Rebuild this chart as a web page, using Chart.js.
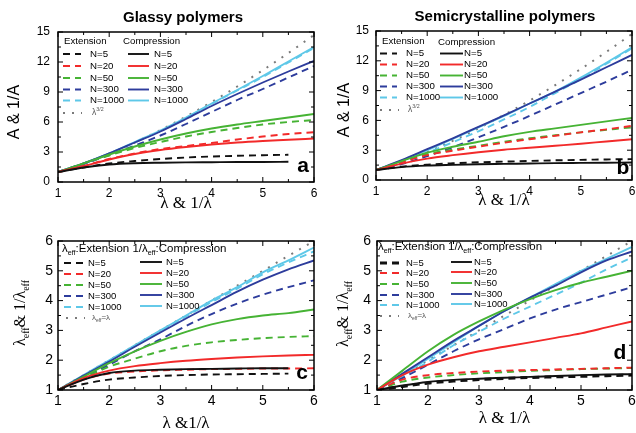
<!DOCTYPE html>
<html>
<head>
<meta charset="utf-8">
<script src="https://cdn.jsdelivr.net/npm/chart.js@4.4.1/dist/chart.umd.min.js"></script>
<style>
  body { margin: 0; background: #fff; }
  .panel { position: absolute; }
</style>
</head>
<body>
<div class="panel" style="left:0;top:0;width:318px;height:216px"><canvas id="chartA"></canvas></div>
<div class="panel" style="left:318px;top:0;width:318px;height:216px"><canvas id="chartB"></canvas></div>
<div class="panel" style="left:0;top:216px;width:318px;height:217px"><canvas id="chartC"></canvas></div>
<div class="panel" style="left:318px;top:216px;width:318px;height:217px"><canvas id="chartD"></canvas></div>
<script>
// stretch ratio, shared by every curve
const lam = [1, 1.5, 2, 2.5, 3, 3.5, 4, 4.5, 5, 5.5, 6]
const xTicks = [1, 2, 3, 4, 5, 6]
const yTicksTop = [0, 3, 6, 9, 12, 15]
const yTicksBottom = [1, 2, 3, 4, 5, 6]
const nLabels = ['N=5', 'N=20', 'N=50', 'N=300', 'N=1000']

// (a) glassy polymers, A & 1/A
const aExt5 = [1, 1.45, 1.85, 2.1, 2.3, 2.45, 2.55, 2.62, 2.68, 2.72, null]
const aExt20 = [1, 1.6, 2.3, 2.85, 3.3, 3.6, 3.9, 4.25, 4.55, 4.8, 4.98]
const aExt50 = [1, 1.85, 2.65, 3.4, 4.0, 4.55, 5.0, 5.4, 5.75, 6.0, 6.2]
const aExt300 = [1, 1.8, 2.7, 3.65, 4.65, 5.8, 7.0, 8.2, 9.3, 10.45, 11.6]
const aExt1000 = [1, 1.85, 2.8, 3.95, 5.1, 6.4, 7.8, 9.15, 10.5, 11.95, 13.4]
const aComp5 = [1, 1.45, 1.75, 1.88, 1.93, 1.96, 1.98, 2.0, 2.0, 2.02, null]
const aComp20 = [1, 1.6, 2.25, 2.8, 3.2, 3.5, 3.75, 3.95, 4.1, 4.22, 4.35]
const aComp50 = [1, 1.85, 2.75, 3.55, 4.25, 4.85, 5.35, 5.75, 6.1, 6.45, 6.8]
const aComp300 = [1, 1.85, 2.85, 3.95, 5.05, 6.3, 7.6, 8.8, 9.95, 11.05, 12.1]
const aComp1000 = [1, 1.85, 2.85, 4.0, 5.15, 6.45, 7.85, 9.2, 10.6, 12.05, 13.5]
const aRef = [1, 1.84, 2.83, 3.95, 5.2, 6.55, 8.0, 9.55, 11.18, 12.9, 14.7]

// (b) semicrystalline polymers, A & 1/A
const bExt5 = [1, 1.35, 1.55, 1.68, 1.78, 1.85, 1.92, 1.98, 2.03, 2.07, 2.1]
const bExt20 = [1, 1.8, 2.5, 2.95, 3.35, 3.75, 4.1, 4.45, 4.8, 5.1, 5.45]
const bExt50 = [1, 1.85, 2.6, 3.05, 3.45, 3.85, 4.2, 4.5, 4.8, 5.05, 5.3]
const bExt300 = [1, 1.6, 2.4, 3.3, 4.3, 5.35, 6.45, 7.6, 8.75, 9.9, 11.1]
const bExt1000 = [1, 1.8, 2.75, 3.8, 4.9, 6.1, 7.35, 8.75, 10.15, 11.7, 13.25]
const bComp5 = [1, 1.3, 1.45, 1.52, 1.58, 1.62, 1.66, 1.7, 1.72, 1.74, 1.76]
const bComp20 = [1, 1.65, 2.15, 2.5, 2.8, 3.05, 3.25, 3.45, 3.65, 3.88, 4.1]
const bComp50 = [1, 1.9, 2.75, 3.35, 3.85, 4.4, 4.85, 5.2, 5.55, 5.9, 6.25]
const bComp300 = [1, 2.0, 3.1, 4.2, 5.35, 6.5, 7.7, 8.9, 10.1, 11.35, 12.6]
const bComp1000 = [1, 1.95, 3.0, 4.15, 5.3, 6.45, 7.7, 8.9, 10.3, 11.8, 13.35]
const bRef = [1, 1.84, 2.83, 3.95, 5.2, 6.55, 8.0, 9.55, 11.18, 12.9, 14.7]

// (c) glassy polymers, effective stretch
const cExt5 = [1, 1.2, 1.35, 1.42, 1.47, 1.5, 1.52, 1.53, 1.54, 1.55, null]
const cExt20 = [1, 1.35, 1.55, 1.62, 1.66, 1.68, 1.7, 1.71, 1.72, 1.72, 1.73]
const cExt50 = [1, 1.4, 1.78, 2.05, 2.3, 2.48, 2.6, 2.68, 2.74, 2.78, 2.81]
const cExt300 = [1, 1.42, 1.85, 2.3, 2.7, 3.15, 3.55, 3.9, 4.2, 4.45, 4.68]
const cExt1000 = [1, 1.48, 1.98, 2.48, 2.98, 3.47, 3.95, 4.4, 4.88, 5.28, 5.65]
const cComp5 = [1, 1.35, 1.57, 1.65, 1.68, 1.7, 1.71, 1.72, 1.73, 1.73, null]
const cComp20 = [1, 1.4, 1.65, 1.8, 1.9, 1.98, 2.04, 2.09, 2.13, 2.16, 2.18]
const cComp50 = [1, 1.45, 1.9, 2.3, 2.65, 2.95, 3.2, 3.38, 3.5, 3.58, 3.7]
const cComp300 = [1, 1.48, 1.95, 2.45, 2.93, 3.4, 3.85, 4.3, 4.7, 5.05, 5.35]
const cComp1000 = [1, 1.5, 2.0, 2.5, 3.0, 3.5, 4.0, 4.45, 4.95, 5.35, 5.78]
const cRef = [1, 1.5, 2, 2.5, 3, 3.5, 4, 4.5, 5, 5.5, 6]

// (d) semicrystalline polymers, effective stretch
const dExt5 = [1, 1.12, 1.23, 1.3, 1.35, 1.39, 1.42, 1.44, 1.46, 1.48, 1.5]
const dExt20 = [1, 1.35, 1.5, 1.57, 1.62, 1.65, 1.67, 1.69, 1.71, 1.73, 1.75]
const dExt50 = [1, 1.28, 1.42, 1.5, 1.56, 1.6, 1.64, 1.67, 1.7, 1.72, 1.74]
const dExt300 = [1, 1.4, 1.85, 2.3, 2.7, 3.05, 3.4, 3.7, 3.95, 4.2, 4.45]
const dExt1000 = [1, 1.45, 1.95, 2.5, 2.95, 3.4, 3.8, 4.2, 4.6, 5.05, 5.45]
const dComp5 = [1, 1.15, 1.27, 1.34, 1.38, 1.41, 1.44, 1.47, 1.5, 1.52, 1.53]
const dComp20 = [1, 1.5, 1.85, 2.1, 2.3, 2.45, 2.6, 2.75, 2.9, 3.1, 3.3]
const dComp50 = [1, 1.65, 2.3, 2.85, 3.3, 3.7, 4.05, 4.35, 4.6, 4.8, 5.0]
const dComp300 = [1, 1.55, 2.1, 2.65, 3.15, 3.65, 4.1, 4.5, 4.95, 5.35, 5.65]
const dComp1000 = [1, 1.5, 2.05, 2.6, 3.15, 3.65, 4.1, 4.55, 5.0, 5.4, 5.8]
const dRef = [1, 1.5, 2, 2.5, 3, 3.5, 4, 4.5, 5, 5.5, 6]

const colors = ['#111111', '#f22a2a', '#46b334', '#2d3c9c', '#5ec8e8']
const SANS = '"Liberation Sans", Arial, sans-serif'
const SERIF = '"Liberation Serif", "Times New Roman", serif'

const pts = arr => lam.map((x, i) => ({x, y: arr[i]})).filter(p => p.y !== null)

const series = (ext, comp, ref, refText, thickBlack) => {
    const out = []
    comp.forEach((arr, i) => out.push({
        label: nLabels[i], data: pts(arr), borderColor: colors[i], borderWidth: 1.9,
        col: 'comp', row: i
    }))
    ext.forEach((arr, i) => out.push({
        label: nLabels[i], data: pts(arr), borderColor: colors[i],
        borderWidth: (thickBlack && i === 0) ? 3 : 1.9, borderDash: [7, 5],
        col: 'ext', row: i
    }))
    out.push({
        label: 'ref', data: pts(ref), borderColor: '#7a7a7a', borderWidth: 2,
        borderDash: [2, 7], col: 'ref', row: 5, richLabel: refText
    })
    return out
}

// draws text made of plain / sub / sup pieces
function drawRich(ctx, parts, x, y, size, family, align, weight) {
    const fontFor = mode => `${weight || ''} ${mode ? size * 0.62 : size}px ${family}`
    let total = 0
    parts.forEach(([t, m]) => { ctx.font = fontFor(m); total += ctx.measureText(t).width })
    let cx = align === 'center' ? x - total / 2 : x
    ctx.textAlign = 'left'
    ctx.textBaseline = 'middle'
    parts.forEach(([t, m]) => {
        ctx.font = fontFor(m)
        const dy = m === 'sub' ? size * 0.32 : m === 'sup' ? -size * 0.38 : 0
        ctx.fillText(t, cx, y + dy)
        cx += ctx.measureText(t).width
    })
}

const decor = {
    id: 'decor',
    afterDraw(chart, args, o) {
        const {ctx, chartArea: a, scales} = chart
        ctx.save()
        ctx.fillStyle = '#000'
        ctx.strokeStyle = '#000'

        // inward ticks on all four sides
        ctx.lineWidth = 1
        const xs = scales.x, ys = scales.y
        for (let v = o.xMin; v <= o.xMax + 1e-9; v += o.xStep / 2) {
            const px = xs.getPixelForValue(v)
            const len = Math.abs(v - Math.round(v / o.xStep) * o.xStep) < 1e-6 ? 5 : 3
            ctx.beginPath()
            ctx.moveTo(px, a.bottom); ctx.lineTo(px, a.bottom - len)
            ctx.moveTo(px, a.top); ctx.lineTo(px, a.top + len)
            ctx.stroke()
        }
        for (let v = o.yMin; v <= o.yMax + 1e-9; v += o.yStep / 2) {
            const py = ys.getPixelForValue(v)
            const len = Math.abs((v - o.yMin) / o.yStep - Math.round((v - o.yMin) / o.yStep)) < 1e-6 ? 5 : 3
            ctx.beginPath()
            ctx.moveTo(a.left, py); ctx.lineTo(a.left + len, py)
            ctx.moveTo(a.right, py); ctx.lineTo(a.right - len, py)
            ctx.stroke()
        }
        // frame
        ctx.lineWidth = 1.5
        ctx.strokeRect(a.left, a.top, a.right - a.left, a.bottom - a.top)

        if (o.title) {
            ctx.font = `bold 15px ${SANS}`
            ctx.textAlign = 'center'
            ctx.textBaseline = 'middle'
            ctx.fillText(o.title, o.titlePos[0], o.titlePos[1])
        }
        ctx.font = `bold 21px ${SANS}`
        ctx.textAlign = 'center'
        ctx.textBaseline = 'middle'
        ctx.fillText(o.letter, o.letterPos[0], o.letterPos[1])

        // axis titles
        drawRich(ctx, [[o.xTitle, '']], (a.left + a.right) / 2, o.xTitleY, 17, SERIF, 'center')
        ctx.save()
        ctx.translate(o.yTitlePos[0], o.yTitlePos[1])
        ctx.rotate(-Math.PI / 2)
        drawRich(ctx, o.yTitle, 0, 0, o.yTitleSize, o.yTitleFamily, 'center')
        ctx.restore()

        // legend
        const L = o.legend
        L.headers.forEach(h => drawRich(ctx, h.parts, h.x, h.y, L.headSize, SANS, 'left'))
        chart.data.datasets.forEach(d => {
            const c = L.cols[d.col]
            const y = L.rows[d.col][d.row]
            ctx.save()
            ctx.strokeStyle = d.borderColor
            ctx.lineWidth = d.borderWidth
            ctx.setLineDash(d.borderDash || [])
            ctx.beginPath(); ctx.moveTo(c.x1, y); ctx.lineTo(c.x2, y); ctx.stroke()
            ctx.restore()
            ctx.fillStyle = d.col === 'ref' ? '#555' : '#000'
            drawRich(ctx, d.richLabel || [[d.label, '']], c.tx, y, d.col === 'ref' ? L.refSize : L.size, SANS, 'left')
        })
        ctx.restore()
    }
}

function makeChart(id, datasets, p) {
    const ticks = p.yTicks
    return new Chart(document.getElementById(id).getContext('2d'), {
        type: 'line',
        data: {datasets},
        plugins: [decor],
        options: {
            responsive: true,
            maintainAspectRatio: false,
            animation: false,
            layout: {padding: {top: p.top, right: p.right, left: 0, bottom: 0}},
            elements: {
                point: {radius: 0},
                line: {tension: 0.4, cubicInterpolationMode: 'monotone', fill: false}
            },
            plugins: {
                legend: {display: false},
                tooltip: {enabled: false},
                decor: {
                    xMin: xTicks[0], xMax: xTicks[xTicks.length - 1], xStep: 1,
                    yMin: ticks[0], yMax: ticks[ticks.length - 1], yStep: ticks[1] - ticks[0],
                    ...p.decor
                }
            },
            scales: {
                x: {
                    type: 'linear', min: xTicks[0], max: xTicks[xTicks.length - 1],
                    ticks: {stepSize: 1, color: '#000', padding: p.xPad, font: {family: SANS, size: p.tickSize}},
                    grid: {display: false, drawTicks: false},
                    border: {display: false},
                    afterFit: s => { s.height = p.xH; s.paddingLeft = 0; s.paddingRight = 0 }
                },
                y: {
                    min: ticks[0], max: ticks[ticks.length - 1],
                    ticks: {stepSize: ticks[1] - ticks[0], color: '#000', padding: p.yPad, font: {family: SANS, size: p.tickSize}},
                    grid: {display: false, drawTicks: false},
                    border: {display: false},
                    afterFit: s => { s.width = p.yW; s.paddingTop = 0; s.paddingBottom = 0 }
                }
            }
        }
    })
}

const lamPow = [['λ', ''], ['3/2', 'sup']]
const lamEff = [['λ', ''], ['eff', 'sub'], ['=λ', '']]
const effTitle = [['λ', ''], ['eff', 'sub'], ['& 1/λ', ''], ['eff', 'sub']]

makeChart('chartA', series([aExt5, aExt20, aExt50, aExt300, aExt1000],
    [aComp5, aComp20, aComp50, aComp300, aComp1000], aRef, lamPow), {
    yTicks: yTicksTop, top: 32, right: 4, yW: 58, xH: 34, tickSize: 12, xPad: 4, yPad: 8,
    decor: {
        title: 'Glassy polymers', titlePos: [183, 18], letter: 'a', letterPos: [303, 166],
        xTitle: 'λ & 1/λ', xTitleY: 204,
        yTitle: [['A & 1/A', '']], yTitleSize: 16, yTitleFamily: SANS, yTitlePos: [15, 112],
        legend: {
            size: 9.7, headSize: 9.7, refSize: 8.5,
            headers: [{parts: [['Extension', '']], x: 64, y: 41}, {parts: [['Compression', '']], x: 123, y: 41}],
            cols: {ext: {x1: 63, x2: 81, tx: 90}, comp: {x1: 128, x2: 149, tx: 154}, ref: {x1: 63, x2: 82, tx: 92}},
            rows: {ext: [54, 66, 78, 89.5, 100.5], comp: [54, 66, 78, 89.5, 100.5], ref: {5: 113}}
        }
    }
})

makeChart('chartB', series([bExt5, bExt20, bExt50, bExt300, bExt1000],
    [bComp5, bComp20, bComp50, bComp300, bComp1000], bRef, lamPow), {
    yTicks: yTicksTop, top: 31, right: 4, yW: 58, xH: 36, tickSize: 12, xPad: 4, yPad: 7,
    decor: {
        title: 'Semicrystalline polymers', titlePos: [187, 17], letter: 'b', letterPos: [305, 168],
        xTitle: 'λ & 1/λ', xTitleY: 201,
        yTitle: [['A & 1/A', '']], yTitleSize: 16, yTitleFamily: SANS, yTitlePos: [27, 110],
        legend: {
            size: 9.7, headSize: 9.7, refSize: 8.5,
            headers: [{parts: [['Extension', '']], x: 64, y: 41}, {parts: [['Compression', '']], x: 120, y: 42}],
            cols: {ext: {x1: 62, x2: 79, tx: 88}, comp: {x1: 122, x2: 145, tx: 146}, ref: {x1: 62, x2: 81, tx: 90}},
            rows: {ext: [53.5, 64.5, 75.5, 86.5, 97.5], comp: [53.5, 64.5, 75.5, 86.5, 97.5], ref: {5: 110}}
        }
    }
})

makeChart('chartC', series([cExt5, cExt20, cExt50, cExt300, cExt1000],
    [cComp5, cComp20, cComp50, cComp300, cComp1000], cRef, lamEff), {
    yTicks: yTicksBottom, top: 25, right: 4, yW: 58, xH: 43, tickSize: 14, xPad: 3, yPad: 5,
    decor: {
        letter: 'c', letterPos: [302, 157],
        xTitle: 'λ &1/λ', xTitleY: 208,
        yTitle: effTitle, yTitleSize: 16, yTitleFamily: SERIF, yTitlePos: [21, 97],
        legend: {
            size: 9.5, headSize: 11.5, refSize: 8,
            headers: [{parts: [['λ', ''], ['eff', 'sub'], [':Extension 1/λ', ''], ['eff', 'sub'], [':Compression', '']], x: 62, y: 33}],
            cols: {ext: {x1: 64, x2: 85, tx: 88}, comp: {x1: 140, x2: 162, tx: 166}, ref: {x1: 66, x2: 85, tx: 92}},
            rows: {ext: [47, 58, 69, 80, 91], comp: [46, 57, 68, 79, 90], ref: {5: 102}}
        }
    }
})

makeChart('chartD', series([dExt5, dExt20, dExt50, dExt300, dExt1000],
    [dComp5, dComp20, dComp50, dComp300, dComp1000], dRef, lamEff, true), {
    yTicks: yTicksBottom, top: 25, right: 4, yW: 59, xH: 43, tickSize: 14, xPad: 3, yPad: 6,
    decor: {
        letter: 'd', letterPos: [302, 137],
        xTitle: 'λ & 1/λ', xTitleY: 203,
        yTitle: effTitle, yTitleSize: 16, yTitleFamily: SERIF, yTitlePos: [26, 98],
        legend: {
            size: 9.5, headSize: 11.5, refSize: 8,
            headers: [{parts: [['λ', ''], ['eff', 'sub'], [':Extension', '']], x: 60, y: 31},
                {parts: [['1/λ', ''], ['eff', 'sub'], [':Compression', '']], x: 130, y: 31}],
            cols: {ext: {x1: 62, x2: 83, tx: 88}, comp: {x1: 133, x2: 154, tx: 156}, ref: {x1: 62, x2: 81, tx: 90}},
            rows: {ext: [47, 57, 68, 79, 89], comp: [46, 56, 67, 78, 88], ref: {5: 100}}
        }
    }
})
</script>
</body>
</html>
